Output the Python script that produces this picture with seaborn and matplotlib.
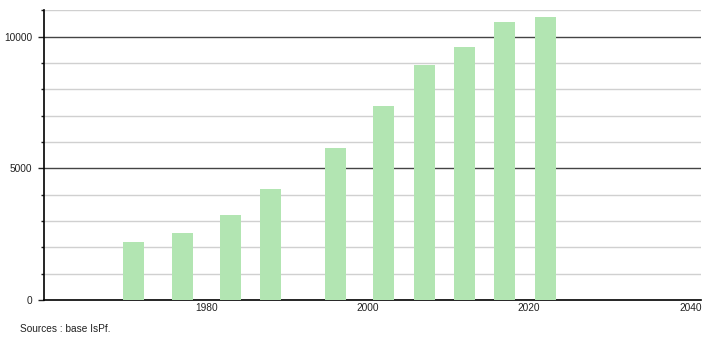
import matplotlib
matplotlib.use("Agg")
import matplotlib.pyplot as plt
from matplotlib.ticker import MultipleLocator, FixedLocator
import seaborn as sns
import pandas as pd

years = [1971, 1977, 1983, 1988, 1996, 2002, 2007, 2012, 2017, 2022]
population = [2205, 2540, 3215, 4220, 5790, 7376, 8935, 9610, 10560, 10750]
x_ticks = [1980, 2000, 2020, 2040]
y_ticks = [0, 5000, 10000]
source_text = "Sources : base IsPf."

sns.set_theme(style="white")
plt.rcParams['font.family'] = ['Liberation Sans', 'DejaVu Sans']

df = pd.DataFrame({"year": years, "pop": population})

fig = plt.figure(figsize=(7.1, 3.4), dpi=100)
ax = fig.add_axes([44 / 710, 40 / 340, (701 - 44) / 710, (300 - 10.3) / 340])

sns.barplot(data=df, x="year", y="pop", native_scale=True, width=0.52,
            color="#b2e5b2", saturation=1, errorbar=None, ax=ax, zorder=3,
            linewidth=0)

ax.set_xlim(1959.9, 2041.3)
ax.set_ylim(0, 11000)

# grid lines
for v in range(1000, 11001, 1000):
    if v % 5000 == 0:
        ax.axhline(v, color="#444444", lw=1.0, zorder=1)
    else:
        ax.axhline(v, color="#d0d0d0", lw=1.0, zorder=1)

ax.xaxis.set_major_locator(FixedLocator(x_ticks))
ax.set_xticklabels([str(t) for t in x_ticks])
ax.yaxis.set_major_locator(FixedLocator(y_ticks))
ax.set_yticklabels([str(t) for t in y_ticks])
ax.yaxis.set_minor_locator(MultipleLocator(1000))

ax.tick_params(axis="x", length=0, pad=2.5, labelsize=7.3, colors="#222222")
ax.tick_params(axis="y", which="major", left=True, length=4, width=1, pad=4.5,
               labelsize=7.3, colors="#222222", direction="out")
ax.tick_params(axis="y", which="minor", left=True, length=2, width=1,
               colors="#222222", direction="out")
for lbl in ax.get_xticklabels() + ax.get_yticklabels():
    lbl.set_color("#222222")

ax.set_xlabel("")
ax.set_ylabel("")
for side in ["top", "right"]:
    ax.spines[side].set_visible(False)
for side in ["left", "bottom"]:
    ax.spines[side].set_color("#000000")
    ax.spines[side].set_linewidth(1.2)

fig.text(20.5 / 710, 1 - 329 / 340, source_text, fontsize=7.3, color="#222222",
         va="center", ha="left")

fig.savefig("out.png", dpi=100)
